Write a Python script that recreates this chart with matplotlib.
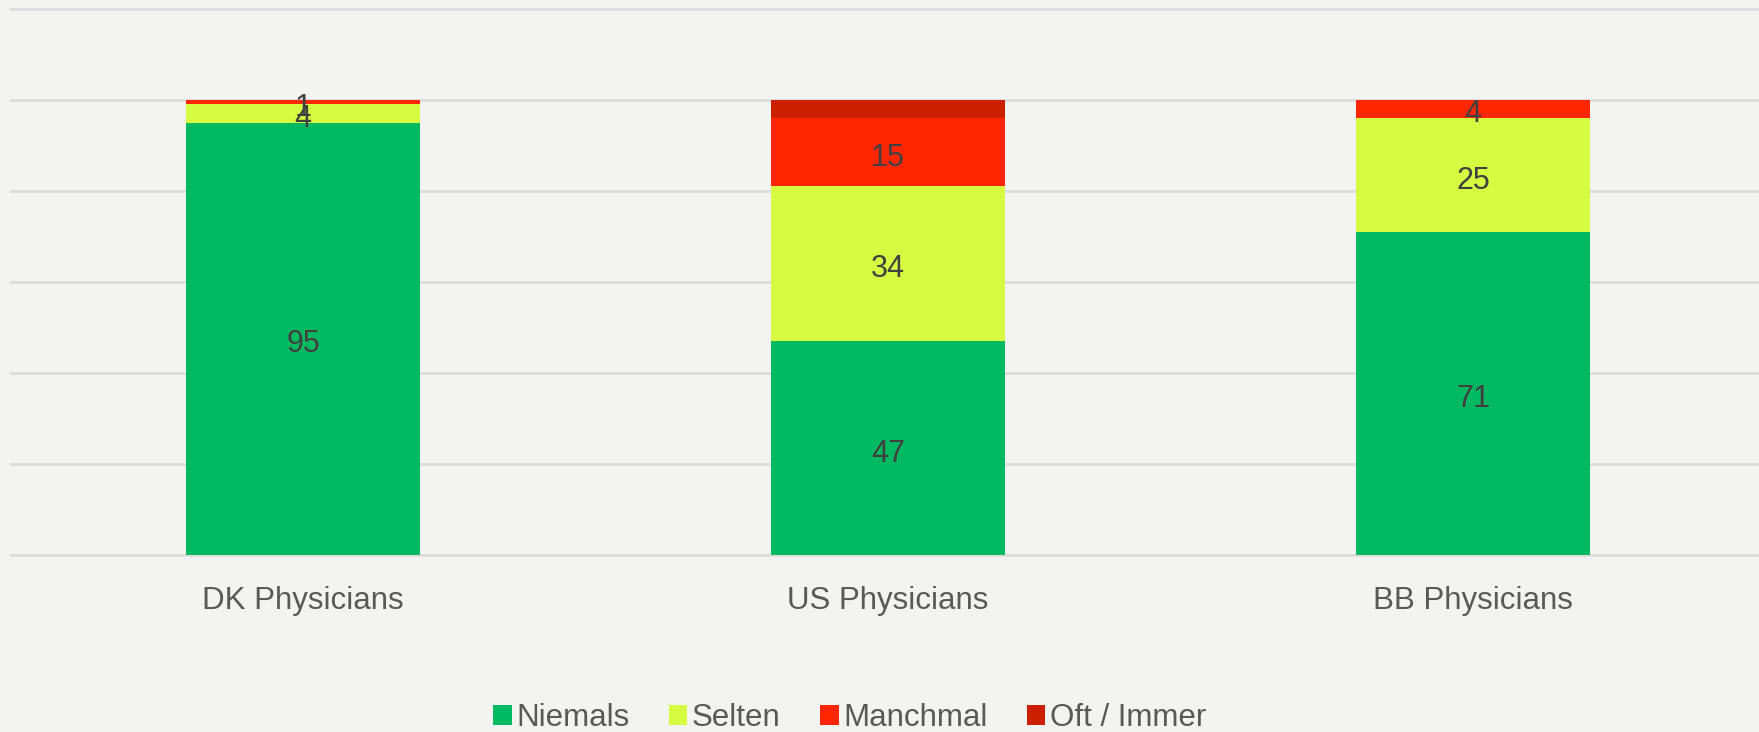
import numpy as np
import matplotlib.pyplot as plt
from matplotlib.patches import Patch

plt.rcParams['font.family'] = ['Liberation Sans', 'DejaVu Sans']

groups = ['DK Physicians', 'US Physicians', 'BB Physicians']
series = ['Niemals', 'Selten', 'Manchmal', 'Oft / Immer']
niemals = [95, 47, 71]
selten = [4, 34, 25]
manchmal = [1, 15, 4]
oft = [0, 4, 0]
# which segments carry a value label
show_label = [True, True, True, False]

colors = ['#00b960', '#d5fc41', '#ff2600', '#cc1f00']
bg = '#f3f3f1'

fig = plt.figure(figsize=(17.59, 7.32), dpi=100, facecolor=bg)
ax = fig.add_axes([0.006, 0.2414, 0.9977, 0.7467], facecolor=bg)

x = np.arange(len(groups))
bottom = np.zeros(len(groups))
for vals, col, name, lab in zip([niemals, selten, manchmal, oft], colors, series, show_label):
    vals = np.array(vals, dtype=float)
    ax.bar(x, vals, 0.4, bottom=bottom, color=col, label=name, zorder=2)
    if lab:
        for xi, v, b in zip(x, vals, bottom):
            if v > 0:
                ax.annotate(f'{v:g}', (xi, b + v / 2), xytext=(0, -4),
                            textcoords='offset points', ha='center', va='center',
                            fontsize=22, color='#404040', zorder=3)
    bottom += vals

ax.set_xlim(-0.5, 2.5)
ax.set_ylim(0, 120)
ax.set_yticks(np.arange(0, 121, 20))
ax.yaxis.grid(True, color='#dcdcdc', lw=2, zorder=0)
for gl in ax.get_ygridlines():
    gl.set_clip_on(False)
ax.set_yticklabels([])
ax.tick_params(axis='y', length=0)
ax.set_xticks(x)
ax.set_xticklabels(groups, fontsize=22.5, color='#595959')
ax.tick_params(axis='x', length=0, pad=22)
for s in ax.spines.values():
    s.set_visible(False)

handles = [Patch(facecolor=c, label=n) for c, n in zip(colors, series)]
fig.legend(handles=handles, loc='center', bbox_to_anchor=(0.483, 0.019),
           ncol=4, frameon=False, fontsize=22.5, labelcolor='#595959',
           handlelength=0.6, handleheight=0.6, handletextpad=0.15, columnspacing=1.25)

fig.savefig('out.png', dpi=100, facecolor=bg)
